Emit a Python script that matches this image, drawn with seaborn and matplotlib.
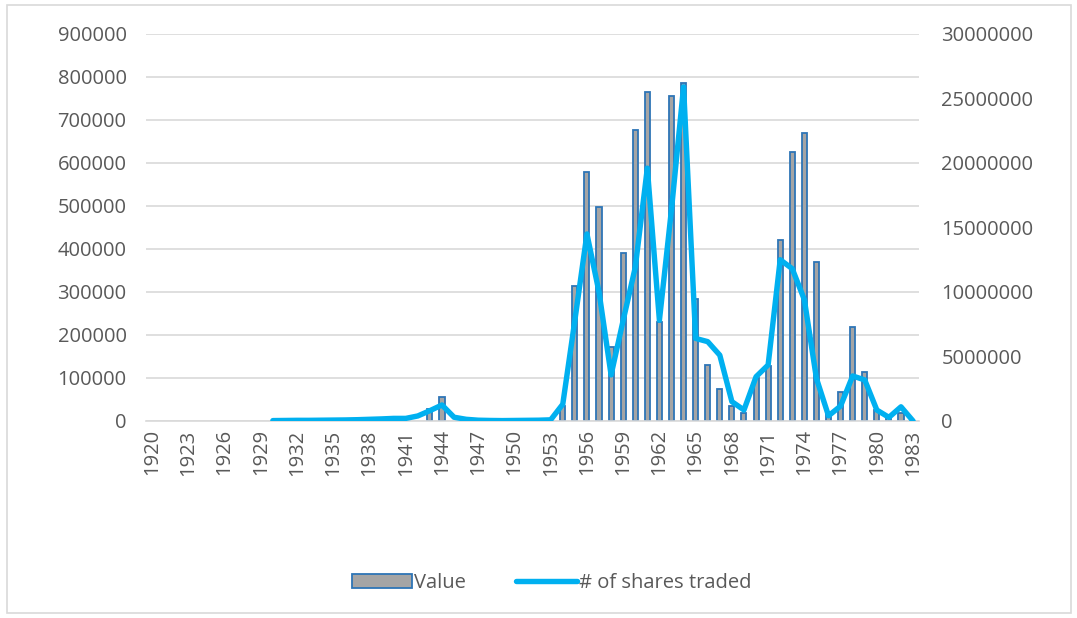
import numpy as np
import pandas as pd
import matplotlib
matplotlib.use("Agg")
import matplotlib.pyplot as plt
from matplotlib.patches import Rectangle, Patch
from matplotlib.lines import Line2D
import seaborn as sns

years = list(range(1920, 1984))

nan = np.nan
value = [nan] * 23 + [29000, 56000] + [nan] * 9 + [
    35000, 314000, 580000, 498000, 173000, 391000, 677000, 766000, 231000,
    755000, 787000, 283000, 130000, 74000, 35000, 19000, 100000, 128000,
    421000, 625000, 670000, 370000, 20000, 67000, 219000, 115000, 25000,
    10000, 19000, nan]

shares = [nan] * 10 + [
    30000, 40000, 50000, 50000, 60000, 70000, 80000, 100000, 130000, 160000,
    200000, 200000, 390000, 800000, 1240000, 290000, 130000, 60000, 40000,
    30000, 40000, 50000, 60000, 90000,
    1300000, 7800000, 14500000, 10000000, 3570000, 7800000, 11900000,
    19600000, 7800000, 16400000, 25900000, 6400000, 6150000, 5100000,
    1500000, 850000, 3430000, 4340000, 12500000, 11800000, 9400000,
    3300000, 400000, 1160000, 3490000, 3180000, 850000, 280000, 1100000, 0]

tick_years = [str(y) for y in range(1920, 1984, 3)]

df = pd.DataFrame({"year": [str(y) for y in years], "value": value,
                   "shares": shares, "pos": np.arange(len(years))})

sns.set_theme(style="white")
plt.rcParams['font.family'] = ['Open Sans', 'DejaVu Sans']

fig = plt.figure(figsize=(10.77, 6.18), dpi=100)
ax = fig.add_axes([0.1356, 0.3188, 0.8534 - 0.1356, 0.945 - 0.3188])

sns.barplot(data=df, x="year", y="value", order=df["year"], ax=ax,
            color="#A5A5A5", edgecolor="#2E75B6", linewidth=1.3,
            width=0.42, saturation=1)

ax.set_ylim(0, 900000)
ax.set_yticks(np.arange(0, 900001, 100000))
ax.set_yticklabels([str(v) for v in range(0, 900001, 100000)])
ax.set_xlim(-0.5, len(years) - 0.5)
ax.set_xticks([years.index(int(t)) for t in tick_years])
ax.set_xticklabels(tick_years, rotation=90)
ax.grid(axis="y", color="#D9D9D9", linewidth=1.2)
ax.set_axisbelow(True)
for s in ["left", "right", "top"]:
    ax.spines[s].set_visible(False)
ax.spines["bottom"].set_color("#D9D9D9")
ax.spines["bottom"].set_linewidth(1.2)
ax.set_xlabel("")
ax.set_ylabel("")
ax.tick_params(axis="both", length=0, labelsize=14.5, colors="#595959")
ax.tick_params(axis="y", pad=14)
ax.tick_params(axis="x", pad=6)

ax2 = ax.twinx()
sns.lineplot(data=df, x="pos", y="shares", ax=ax2, color="#00B0F0",
             linewidth=3.9, solid_capstyle="round", solid_joinstyle="round")
ax2.set_ylim(0, 30000000)
ax2.set_yticks(np.arange(0, 30000001, 5000000))
ax2.set_yticklabels([str(v) for v in range(0, 30000001, 5000000)])
ax2.set_xlim(-0.5, len(years) - 0.5)
for s in ["left", "right", "top", "bottom"]:
    ax2.spines[s].set_visible(False)
ax2.set_ylabel("")
ax2.set_xlabel("")
ax2.tick_params(axis="y", length=0, labelsize=14.5, colors="#595959", pad=16)

handles = [Patch(facecolor="#A5A5A5", edgecolor="#2E75B6", linewidth=1.3),
           Line2D([0], [0], color="#00B0F0", linewidth=3.9, solid_capstyle="round")]
fig.legend(handles, ["Value", "# of shares traded"], loc="center",
           bbox_to_anchor=(0.512, 0.057), ncol=2, frameon=False,
           fontsize=14.5, labelcolor="#595959", handlelength=3.0,
           handletextpad=0.1, columnspacing=2.5)

fig.patches.append(Rectangle((7 / 1077, 5 / 618), 1064 / 1077, 608 / 618,
                             transform=fig.transFigure, fill=False,
                             edgecolor="#D9D9D9", linewidth=1.2))

fig.savefig("out.png", dpi=100)
